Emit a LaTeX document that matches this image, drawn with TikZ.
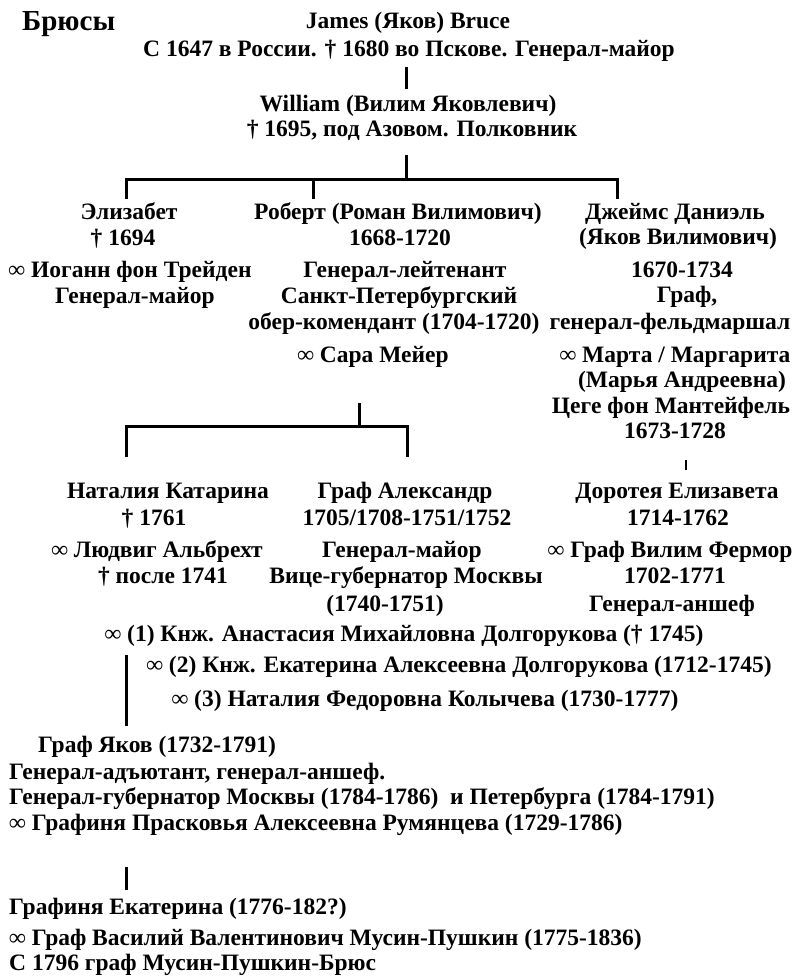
\documentclass[tikz,border=0pt]{standalone}
\usepackage{fontspec}
\setmainfont{Liberation Serif}
\begin{document}
\begin{tikzpicture}[x=1pt,y=-1pt,
  every node/.style={inner sep=0pt,font=\fontsize{23.5}{27}\selectfont\bfseries},
  t/.style={anchor=base},
  l/.style={anchor=base west},
  ln/.style={line width=3pt},
  thin ln/.style={line width=2pt}]
\useasboundingbox (0,0) rectangle (796,976);
% title
\node[l,font=\fontsize{29}{31}\selectfont\bfseries] (title) at (22,31) {Брюсы};
% top
\node[t] (j1) at (408,29) {James (Яков) Bruce};
\node[t] (j2) at (409,57) {С 1647 в России. † 1680 во Пскове. Генерал-майор};
\node[t] (w1) at (408,112) {William (Вилим Яковлевич)};
\node[t] (w2) at (412,137) {† 1695, под Азовом. Полковник};
% row 1 left
\node[t] (e1) at (129,219) {Элизабет};
\node[t] (e2) at (123,245) {† 1694};
\node[t] (e3) at (130,277) {∞ Иоганн фон Трейден};
\node[t] (e4) at (135,303) {Генерал-майор};
% row 1 middle
\node[t] (r1) at (398,219) {Роберт (Роман Вилимович)};
\node[t] (r2) at (400,245) {1668-1720};
\node[t] (r3) at (405,277) {Генерал-лейтенант};
\node[t] (r4) at (399,303) {Санкт-Петербургский};
\node[t] (r5) at (394,329) {обер-комендант (1704-1720)};
\node[t] (r6) at (373,362) {∞ Сара Мейер};
% row 1 right
\node[t] (d1) at (675,219) {Джеймс Даниэль};
\node[t] (d2) at (678,244) {(Яков Вилимович)};
\node[t] (d3) at (682,277) {1670-1734};
\node[t] (d4) at (687,302) {Граф,};
\node[t] (d5) at (670,329) {генерал-фельдмаршал};
\node[t] (d6) at (675,362) {∞ Марта / Маргарита};
\node[t] (d7) at (682,387) {(Марья Андреевна)};
\node[t] (d8) at (671,413) {Цеге фон Мантейфель};
\node[t] (d9) at (675,438) {1673-1728};
% row 2 left
\node[t] (n1) at (168,498) {Наталия Катарина};
\node[t] (n2) at (154,525) {† 1761};
\node[t] (n3) at (157,557) {∞ Людвиг Альбрехт};
\node[t] (n4) at (163,583) {† после 1741};
% row 2 middle
\node[t] (a1) at (405,498) {Граф Александр};
\node[t] (a2) at (407,525) {1705/1708-1751/1752};
\node[t] (a3) at (402,557) {Генерал-майор};
\node[t] (a4) at (406,583) {Вице-губернатор Москвы};
\node[t] (a5) at (385,611) {(1740-1751)};
% row 2 right
\node[t] (o1) at (677,498) {Доротея Елизавета};
\node[t] (o2) at (678,525) {1714-1762};
\node[t] (o3) at (670,557) {∞ Граф Вилим Фермор};
\node[t] (o4) at (675,583) {1702-1771};
\node[t] (o5) at (672,611) {Генерал-аншеф};
% marriages of Alexander
\node[t] (m1) at (404,641) {∞ (1) Кнж. Анастасия Михайловна Долгорукова († 1745)};
\node[t] (m2) at (459,672) {∞ (2) Кнж. Екатерина Алексеевна Долгорукова (1712-1745)};
\node[t] (m3) at (425,706) {∞ (3) Наталия Федоровна Колычева (1730-1777)};
% bottom block
\node[l] (y1) at (38,752) {Граф Яков (1732-1791)};
\node[l] (y2) at (9,779) {Генерал-адъютант, генерал-аншеф.};
\node[l] (y3) at (9,804) {Генерал-губернатор Москвы (1784-1786) \ и Петербурга (1784-1791)};
\node[l] (y4) at (9,830) {∞ Графиня Прасковья Алексеевна Румянцева (1729-1786)};
\node[l] (k1) at (9,914) {Графиня Екатерина (1776-182?)};
\node[l] (k2) at (9,945) {∞ Граф Василий Валентинович Мусин-Пушкин (1775-1836)};
\node[l] (k3) at (9,970) {С 1796 граф Мусин-Пушкин-Брюс};
% connectors
\coordinate (c1a) at (406,67); \coordinate (c1b) at (406,89);
\draw[ln] (c1a) -- (c1b);
\coordinate (c2a) at (406,155); \coordinate (c2b) at (406,180);
\coordinate (bl) at (126,180); \coordinate (bm) at (313,180); \coordinate (br) at (617,180);
\coordinate (bl2) at (126,199); \coordinate (bm2) at (313,199); \coordinate (br2) at (617,199);
\draw[ln] (c2a) -- (c2b);
\draw[ln] (bl2) -- (bl) -- (br) -- (br2);
\draw[ln] (bm) -- (bm2);
\coordinate (c3a) at (359,403); \coordinate (c3b) at (359,426);
\coordinate (ql) at (126,426); \coordinate (qr) at (407,426);
\coordinate (ql2) at (126,457); \coordinate (qr2) at (407,457);
\draw[ln] (c3a) -- (c3b);
\draw[ln] (ql2) -- (ql) -- (qr) -- (qr2);
\coordinate (c4a) at (686,460); \coordinate (c4b) at (686,470);
\draw[thin ln] (c4a) -- (c4b);
\coordinate (c5a) at (126,655); \coordinate (c5b) at (126,726);
\draw[ln] (c5a) -- (c5b);
\coordinate (c6a) at (126,867); \coordinate (c6b) at (126,890);
\draw[ln] (c6a) -- (c6b);
\end{tikzpicture}
\end{document}
